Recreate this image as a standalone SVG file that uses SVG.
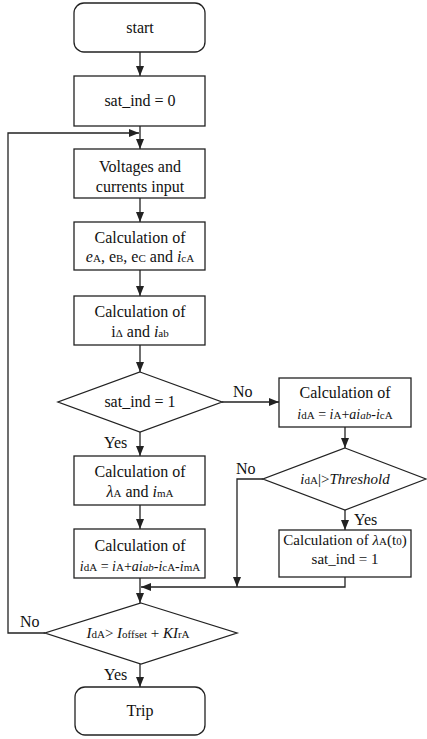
<svg xmlns="http://www.w3.org/2000/svg" width="427" height="739" viewBox="0 0 427 739" font-family="'Liberation Serif', 'DejaVu Serif', serif">
<style>
.b{fill:#fff;stroke:#222;stroke-width:1.3}
.c{fill:none;stroke:#222;stroke-width:1.3}
.t{font-family:'Liberation Serif','DejaVu Serif',serif;font-size:16px;text-anchor:middle;fill:#111}
.l{font-family:'Liberation Serif','DejaVu Serif',serif;font-size:16px;fill:#111}
.s{font-size:11px}
.i{font-style:italic}
</style>
<defs>
<marker id="ah" viewBox="0 0 10 8" refX="10" refY="4" markerWidth="10" markerHeight="8" markerUnits="userSpaceOnUse" orient="auto">
<path d="M0,0 L10,4 L0,8 Z" fill="#222"/>
</marker>
</defs>
<rect width="427" height="739" fill="#fff"/>
<g id="connectors">
<line class="c" x1="140" y1="52" x2="140" y2="76" marker-end="url(#ah)"/>
<line class="c" x1="140" y1="126" x2="140" y2="149" marker-end="url(#ah)"/>
<polyline class="c" points="45,633 8,633 8,133 139,133" marker-end="url(#ah)"/>
<line class="c" x1="140" y1="198" x2="140" y2="222" marker-end="url(#ah)"/>
<line class="c" x1="140" y1="270" x2="140" y2="296" marker-end="url(#ah)"/>
<line class="c" x1="140" y1="345" x2="140" y2="372" marker-end="url(#ah)"/>
<line class="c" x1="140" y1="432" x2="140" y2="456" marker-end="url(#ah)"/>
<line class="c" x1="140" y1="505" x2="140" y2="529" marker-end="url(#ah)"/>
<line class="c" x1="140" y1="578" x2="140" y2="603" marker-end="url(#ah)"/>
<line class="c" x1="222" y1="402" x2="279" y2="402" marker-end="url(#ah)"/>
<line class="c" x1="345" y1="427" x2="345" y2="448" marker-end="url(#ah)"/>
<line class="c" x1="345" y1="510" x2="345" y2="530" marker-end="url(#ah)"/>
<polyline class="c" points="263,479 237,479 237,587" marker-end="url(#ah)"/>
<polyline class="c" points="345,577 345,587 141,587" marker-end="url(#ah)"/>
<line class="c" x1="140" y1="664" x2="140" y2="687" marker-end="url(#ah)"/>
<text class="l" x="233" y="397">No</text>
<text class="l" x="104" y="448">Yes</text>
<text class="l" x="236" y="474">No</text>
<text class="l" x="354" y="525">Yes</text>
<text class="l" x="20" y="627">No</text>
<text class="l" x="104" y="680">Yes</text>
</g>
<g id="start">
<rect class="b" x="74" y="3" width="131" height="49" rx="10"/>
<text class="t" x="140" y="33">start</text>
</g>
<g id="init">
<rect class="b" x="74" y="76" width="131" height="50"/>
<text class="t" x="140" y="106">sat_ind = 0</text>
</g>
<g id="input">
<rect class="b" x="74" y="149" width="131" height="49"/>
<text class="t" x="140" y="172">Voltages and</text>
<text class="t" x="140" y="192">currents input</text>
</g>
<g id="calc-e">
<rect class="b" x="74" y="222" width="131" height="48"/>
<text class="t" x="140" y="243">Calculation of</text>
<text class="t" x="140" y="262"><tspan class="i">e</tspan><tspan class="s">A</tspan>, e<tspan class="s">B</tspan>, e<tspan class="s">C</tspan> and <tspan class="i">i</tspan><tspan class="s">cA</tspan></text>
</g>
<g id="calc-i">
<rect class="b" x="74" y="296" width="131" height="49"/>
<text class="t" x="140" y="317">Calculation of</text>
<text class="t" x="140" y="337">i<tspan class="s">Δ</tspan> and <tspan class="i">i</tspan><tspan class="s">ab</tspan></text>
</g>
<g id="dec-sat">
<polygon class="b" points="140,372 222,402 140,432 58,402"/>
<text class="t" x="140" y="407">sat_ind = 1</text>
</g>
<g id="calc-lambda">
<rect class="b" x="74" y="456" width="131" height="49"/>
<text class="t" x="140" y="477">Calculation of</text>
<text class="t" x="140" y="497"><tspan class="i">λ</tspan><tspan class="s">A</tspan> and <tspan class="i">i</tspan><tspan class="s">mA</tspan></text>
</g>
<g id="calc-ida">
<rect class="b" x="74" y="529" width="131" height="49"/>
<text class="t" x="140" y="551">Calculation of</text>
<text class="t" x="140" y="571" style="font-size:14px"><tspan class="i">i</tspan><tspan class="s">dA</tspan> = <tspan class="i">i</tspan><tspan class="s">A</tspan>+<tspan class="i">ai</tspan><tspan class="s i">ab</tspan>-<tspan class="i">i</tspan><tspan class="s">cA</tspan>-<tspan class="i">i</tspan><tspan class="s">mA</tspan></text>
</g>
<g id="calc-ida-right">
<rect class="b" x="279" y="378" width="132" height="49"/>
<text class="t" x="345" y="398">Calculation of</text>
<text class="t" x="345" y="419" style="font-size:14px"><tspan class="i">i</tspan><tspan class="s">dA</tspan> = <tspan class="i">i</tspan><tspan class="s">A</tspan>+<tspan class="i">ai</tspan><tspan class="s i">ab</tspan>-<tspan class="i">i</tspan><tspan class="s">cA</tspan></text>
</g>
<g id="dec-threshold">
<polygon class="b" points="345,448 426,479 345,510 263,479"/>
<text class="t" x="345" y="484" style="font-size:15px"><tspan class="i">i</tspan><tspan class="s">dA</tspan>|&gt;<tspan class="i">Threshold</tspan></text>
</g>
<g id="calc-lambda-t0">
<rect class="b" x="279" y="530" width="132" height="47"/>
<text class="t" x="345" y="545" style="font-size:15px">Calculation of <tspan class="i">λ</tspan><tspan class="s">A</tspan>(t<tspan class="s">0</tspan>)</text>
<text class="t" x="345" y="564" style="font-size:15px">sat_ind = 1</text>
</g>
<g id="dec-trip">
<polygon class="b" points="141,603 237,633 141,664 45,633"/>
<text class="t" x="138" y="638" style="font-size:15px"><tspan class="i">I</tspan><tspan class="s">dA</tspan>&gt; <tspan class="i">I</tspan><tspan class="s">offset</tspan> + <tspan class="i">KI</tspan><tspan class="s">rA</tspan></text>
</g>
<g id="trip">
<rect class="b" x="75" y="687" width="130" height="48" rx="10"/>
<text class="t" x="140" y="716">Trip</text>
</g>
</svg>
